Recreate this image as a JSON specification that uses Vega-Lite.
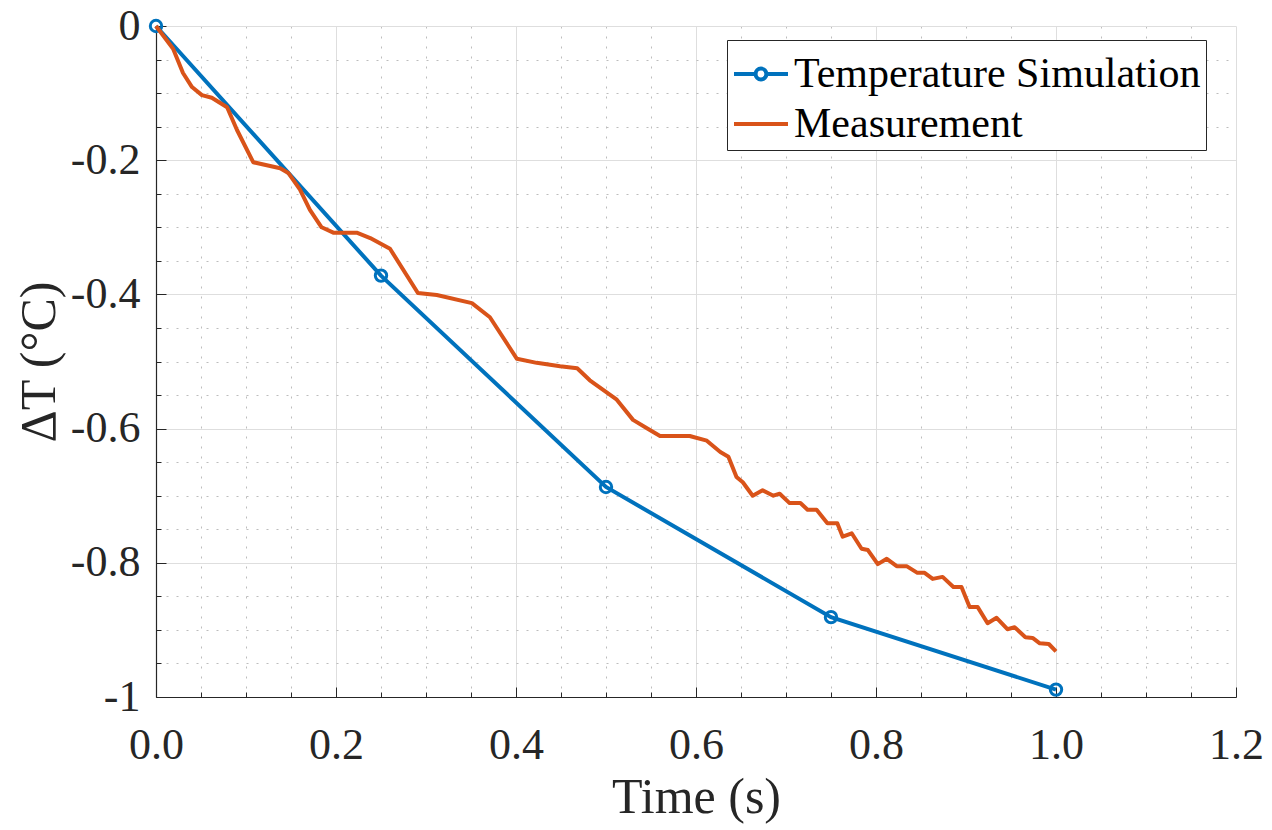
{
  "$schema": "https://vega.github.io/schema/vega-lite/v6.json",
  "width": 1080,
  "height": 671,
  "autosize": {"type": "none"},
  "padding": {"left": 156, "top": 26, "right": 36, "bottom": 133},
  "background": "white",
  "config": {
    "view": {"stroke": null},
    "font": "Times New Roman, Liberation Serif, serif",
    "text": {"font": "Times New Roman, Liberation Serif, serif"}
  },
  "data": {
    "values": [
      {"t": 0.0, "dT": 0.0, "series": "Temperature Simulation"},
      {"t": 0.25, "dT": -0.372, "series": "Temperature Simulation"},
      {"t": 0.5, "dT": -0.687, "series": "Temperature Simulation"},
      {"t": 0.75, "dT": -0.881, "series": "Temperature Simulation"},
      {"t": 1.0, "dT": -0.989, "series": "Temperature Simulation"},
      {"t": 0.0, "dT": 0.0, "series": "Measurement"},
      {"t": 0.019, "dT": -0.034, "series": "Measurement"},
      {"t": 0.030, "dT": -0.070, "series": "Measurement"},
      {"t": 0.040, "dT": -0.091, "series": "Measurement"},
      {"t": 0.051, "dT": -0.103, "series": "Measurement"},
      {"t": 0.062, "dT": -0.107, "series": "Measurement"},
      {"t": 0.079, "dT": -0.121, "series": "Measurement"},
      {"t": 0.090, "dT": -0.155, "series": "Measurement"},
      {"t": 0.108, "dT": -0.203, "series": "Measurement"},
      {"t": 0.138, "dT": -0.212, "series": "Measurement"},
      {"t": 0.147, "dT": -0.219, "series": "Measurement"},
      {"t": 0.160, "dT": -0.244, "series": "Measurement"},
      {"t": 0.171, "dT": -0.274, "series": "Measurement"},
      {"t": 0.184, "dT": -0.300, "series": "Measurement"},
      {"t": 0.197, "dT": -0.308, "series": "Measurement"},
      {"t": 0.223, "dT": -0.308, "series": "Measurement"},
      {"t": 0.238, "dT": -0.316, "series": "Measurement"},
      {"t": 0.260, "dT": -0.332, "series": "Measurement"},
      {"t": 0.291, "dT": -0.398, "series": "Measurement"},
      {"t": 0.312, "dT": -0.401, "series": "Measurement"},
      {"t": 0.351, "dT": -0.413, "series": "Measurement"},
      {"t": 0.371, "dT": -0.434, "series": "Measurement"},
      {"t": 0.401, "dT": -0.496, "series": "Measurement"},
      {"t": 0.423, "dT": -0.502, "series": "Measurement"},
      {"t": 0.449, "dT": -0.507, "series": "Measurement"},
      {"t": 0.468, "dT": -0.510, "series": "Measurement"},
      {"t": 0.482, "dT": -0.528, "series": "Measurement"},
      {"t": 0.512, "dT": -0.557, "series": "Measurement"},
      {"t": 0.530, "dT": -0.587, "series": "Measurement"},
      {"t": 0.545, "dT": -0.599, "series": "Measurement"},
      {"t": 0.560, "dT": -0.611, "series": "Measurement"},
      {"t": 0.593, "dT": -0.611, "series": "Measurement"},
      {"t": 0.612, "dT": -0.618, "series": "Measurement"},
      {"t": 0.627, "dT": -0.635, "series": "Measurement"},
      {"t": 0.636, "dT": -0.642, "series": "Measurement"},
      {"t": 0.645, "dT": -0.672, "series": "Measurement"},
      {"t": 0.652, "dT": -0.680, "series": "Measurement"},
      {"t": 0.663, "dT": -0.700, "series": "Measurement"},
      {"t": 0.674, "dT": -0.692, "series": "Measurement"},
      {"t": 0.686, "dT": -0.700, "series": "Measurement"},
      {"t": 0.693, "dT": -0.697, "series": "Measurement"},
      {"t": 0.704, "dT": -0.711, "series": "Measurement"},
      {"t": 0.716, "dT": -0.711, "series": "Measurement"},
      {"t": 0.724, "dT": -0.721, "series": "Measurement"},
      {"t": 0.734, "dT": -0.721, "series": "Measurement"},
      {"t": 0.746, "dT": -0.741, "series": "Measurement"},
      {"t": 0.757, "dT": -0.741, "series": "Measurement"},
      {"t": 0.763, "dT": -0.761, "series": "Measurement"},
      {"t": 0.773, "dT": -0.756, "series": "Measurement"},
      {"t": 0.784, "dT": -0.779, "series": "Measurement"},
      {"t": 0.791, "dT": -0.781, "series": "Measurement"},
      {"t": 0.802, "dT": -0.802, "series": "Measurement"},
      {"t": 0.812, "dT": -0.794, "series": "Measurement"},
      {"t": 0.823, "dT": -0.805, "series": "Measurement"},
      {"t": 0.834, "dT": -0.805, "series": "Measurement"},
      {"t": 0.846, "dT": -0.815, "series": "Measurement"},
      {"t": 0.854, "dT": -0.815, "series": "Measurement"},
      {"t": 0.863, "dT": -0.824, "series": "Measurement"},
      {"t": 0.874, "dT": -0.821, "series": "Measurement"},
      {"t": 0.886, "dT": -0.836, "series": "Measurement"},
      {"t": 0.895, "dT": -0.836, "series": "Measurement"},
      {"t": 0.904, "dT": -0.866, "series": "Measurement"},
      {"t": 0.913, "dT": -0.866, "series": "Measurement"},
      {"t": 0.924, "dT": -0.890, "series": "Measurement"},
      {"t": 0.934, "dT": -0.882, "series": "Measurement"},
      {"t": 0.946, "dT": -0.899, "series": "Measurement"},
      {"t": 0.954, "dT": -0.896, "series": "Measurement"},
      {"t": 0.966, "dT": -0.911, "series": "Measurement"},
      {"t": 0.974, "dT": -0.912, "series": "Measurement"},
      {"t": 0.982, "dT": -0.920, "series": "Measurement"},
      {"t": 0.992, "dT": -0.921, "series": "Measurement"},
      {"t": 1.0, "dT": -0.932, "series": "Measurement"}
    ]
  },
  "encoding": {
    "x": {
      "field": "t",
      "type": "quantitative",
      "scale": {"domain": [0, 1.2], "nice": false, "zero": false},
      "axis": {
        "title": "Time (s)",
        "titleFont": "Times New Roman, Liberation Serif, serif",
        "titleFontSize": 50,
        "titleFontWeight": "normal",
        "titleColor": "#262626",
        "titlePadding": 0,
        "values": [0, 0.05, 0.1, 0.15, 0.2, 0.25, 0.3, 0.35, 0.4, 0.45, 0.5, 0.55, 0.6, 0.65, 0.7, 0.75, 0.8, 0.85, 0.9, 0.95, 1.0, 1.05, 1.1, 1.15, 1.2],
        "labelExpr": "abs(datum.value*5 - round(datum.value*5)) > 0.001 ? '' : format(datum.value, '.1f')",
        "labelFont": "Times New Roman, Liberation Serif, serif",
        "labelFontSize": 44,
        "labelColor": "#262626",
        "labelFlush": false,
        "labelOverlap": false,
        "labelPadding": 36,
        "domainColor": "#262626",
        "domainWidth": 1.2,
        "tickColor": "#262626",
        "tickWidth": 1,
        "tickSize": {"condition": {"test": "abs(datum.value*5 - round(datum.value*5)) < 0.001", "value": -10}, "value": -5},
        "grid": true,
        "gridColor": {"condition": {"test": "abs(datum.value*5 - round(datum.value*5)) < 0.001", "value": "#dedede"}, "value": "#bdbdbd"},
        "gridDash": {"condition": {"test": "abs(datum.value*5 - round(datum.value*5)) < 0.001", "value": []}, "value": [2, 8]},
        "gridWidth": 1
      }
    },
    "y": {
      "field": "dT",
      "type": "quantitative",
      "scale": {"domain": [-1, 0], "nice": false, "zero": false},
      "axis": {
        "title": "ΔT (°C)",
        "titleFont": "Times New Roman, Liberation Serif, serif",
        "titleFontSize": 50,
        "titleFontWeight": "normal",
        "titleColor": "#262626",
        "titlePadding": 6,
        "values": [0, -0.05, -0.1, -0.15, -0.2, -0.25, -0.3, -0.35, -0.4, -0.45, -0.5, -0.55, -0.6, -0.65, -0.7, -0.75, -0.8, -0.85, -0.9, -0.95, -1.0],
        "labelExpr": "abs(datum.value*5 - round(datum.value*5)) > 0.001 ? '' : datum.value == 0 ? '0' : datum.value < -0.999 ? '-1' : '-0.' + round(-datum.value*10)",
        "labelFont": "Times New Roman, Liberation Serif, serif",
        "labelFontSize": 44,
        "labelColor": "#262626",
        "labelFlush": false,
        "labelOverlap": false,
        "labelPadding": 26,
        "domainColor": "#262626",
        "domainWidth": 1.2,
        "tickColor": "#262626",
        "tickWidth": 1,
        "tickSize": {"condition": {"test": "abs(datum.value*5 - round(datum.value*5)) < 0.001", "value": -10}, "value": -5},
        "grid": true,
        "gridColor": {"condition": {"test": "abs(datum.value*5 - round(datum.value*5)) < 0.001", "value": "#dedede"}, "value": "#bdbdbd"},
        "gridDash": {"condition": {"test": "abs(datum.value*5 - round(datum.value*5)) < 0.001", "value": []}, "value": [2, 8]},
        "gridWidth": 1
      }
    }
  },
  "layer": [
    {
      "transform": [{"filter": "datum.series == 'Temperature Simulation'"}],
      "mark": {"type": "line", "color": "#0072BD", "strokeWidth": 4, "clip": false}
    },
    {
      "transform": [{"filter": "datum.series == 'Temperature Simulation'"}],
      "mark": {"type": "point", "shape": "circle", "filled": false, "color": "#0072BD", "strokeWidth": 3, "size": 130, "opacity": 1, "clip": false}
    },
    {
      "transform": [{"filter": "datum.series == 'Measurement'"}],
      "mark": {"type": "line", "color": "#D95319", "strokeWidth": 4, "strokeJoin": "round", "clip": false}
    },
    {
      "mark": {"type": "point", "filled": false, "opacity": 0, "strokeWidth": 4},
      "encoding": {
        "color": {
          "field": "series",
          "type": "nominal",
          "scale": {"domain": ["Temperature Simulation", "Measurement"], "range": ["#0072BD", "#D95319"]},
          "legend": {
            "orient": "none",
            "legendX": 571,
            "legendY": 14,
            "title": null,
            "labelFont": "Times New Roman, Liberation Serif, serif",
            "labelFontSize": 42,
            "labelColor": "#000000",
            "labelLimit": 0,
            "labelOffset": 4,
            "symbolSize": 2916,
            "symbolStrokeWidth": 4,
            "symbolOpacity": 1,
            "symbolFillColor": "transparent",
            "rowPadding": 0,
            "padding": 5,
            "strokeColor": "#262626",
            "fillColor": "#ffffff",
            "cornerRadius": 0
          }
        },
        "shape": {
          "field": "series",
          "type": "nominal",
          "scale": {
            "domain": ["Temperature Simulation", "Measurement"],
            "range": [
              "M-1,0H-0.2M0.2,0H1M-0.2,0A0.2,0.2,0,1,0,0.2,0A0.2,0.2,0,1,0,-0.2,0",
              "M-1,0H1"
            ]
          },
          "legend": null
        }
      }
    }
  ]
}
